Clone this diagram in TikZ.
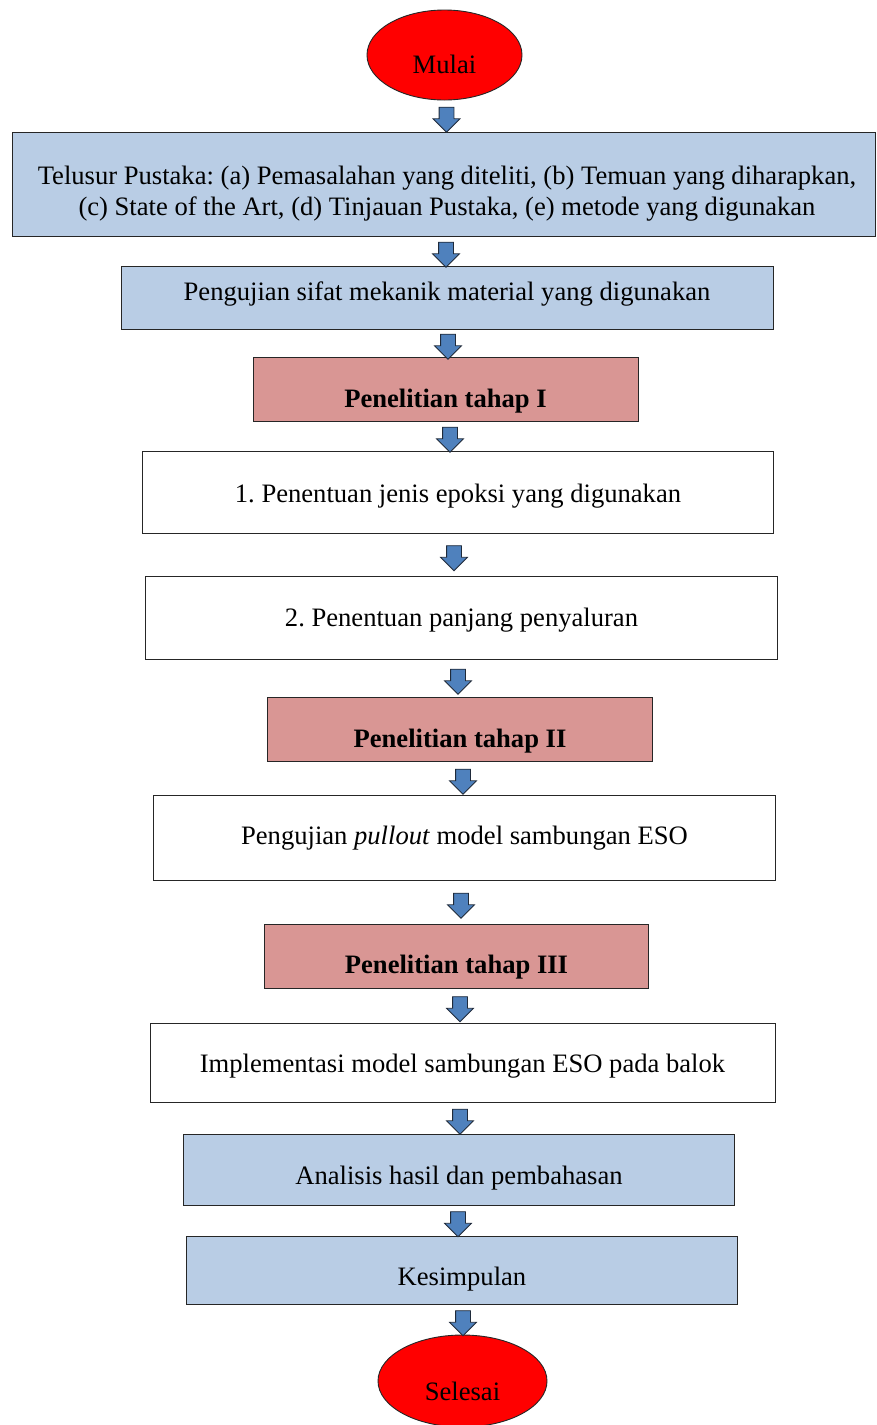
\documentclass[tikz,border=0pt]{standalone}
\usepackage{fontspec}
\setmainfont{Liberation Serif}
\usetikzlibrary{shapes.arrows,shapes.geometric,calc}
\definecolor{boxblue}{HTML}{B9CDE5}
\definecolor{boxpink}{HTML}{D99694}
\definecolor{arrblue}{HTML}{4F81BD}
\definecolor{arrline}{HTML}{1F2A3A}
\tikzset{
  boxbase/.style={draw=black!85, line width=0.9pt, rectangle, inner sep=0pt},
  bluebox/.style={boxbase, fill=boxblue},
  pinkbox/.style={boxbase, fill=boxpink},
  whitebox/.style={boxbase, fill=white},
  oval/.style={draw=black!85, line width=0.9pt, ellipse, fill=red, inner sep=0pt},
  txt/.style={anchor=base, inner sep=0pt, font=\fontsize{26.6}{31}\selectfont\frenchspacing, align=center},
  btxt/.style={txt, font=\fontsize{26.6}{31}\selectfont\bfseries},
  barrow/.style={single arrow, draw=arrline, line width=0.8pt, fill=arrblue,
    rotate=-90, minimum height=25pt, inner xsep=3pt, inner ysep=7pt,
    single arrow head extend=6pt, single arrow tip angle=90, anchor=center}
}
\newcommand{\mybox}[6]{% style, name, x1, y1, x2, y2
  \node[#1, minimum width={#5-#3}, minimum height={#6-#4}] (#2) at ({(#3+#5)/2},{(#4+#6)/2}) {};}
% block arrow between two nodes: name, from, to, x
\newcommand{\barr}[4]{%
  \path let \p1=($(#2.south)!0.5!(#3.north)$) in
    node[barrow] (#1) at (#4pt,\y1) {};}
\begin{document}
\begin{tikzpicture}[x=1pt,y=-1pt]
\useasboundingbox (0,0) rectangle (876,1425);
\clip (0,0) rectangle (876,1425);
% start / end
\node[oval, minimum width=155pt, minimum height=90pt] (start) at (444.5,55) {};
\node[txt] (tstart) at (444.5,73) {Mulai};
% boxes
\mybox{bluebox}{b1}{12}{132}{875}{236}
\node[txt] (t1) at (447,215) {Telusur Pustaka: (a) Pemasalahan yang diteliti, (b) Temuan yang diharapkan,\\(c) State of the Art, (d) Tinjauan Pustaka, (e) metode yang digunakan};
\mybox{bluebox}{b2}{121}{266}{773}{329}
\node[txt] (t2) at (447,300) {Pengujian sifat mekanik material yang digunakan};
\mybox{pinkbox}{b3}{253}{357}{638}{421}
\node[btxt] (t3) at (445.5,407) {Penelitian tahap I};
\mybox{whitebox}{b4}{142}{451}{773}{533}
\node[txt] (t4) at (458,502) {1. Penentuan jenis epoksi yang digunakan};
\mybox{whitebox}{b5}{145}{576}{777}{659}
\node[txt] (t5) at (461.5,626) {2. Penentuan panjang penyaluran};
\mybox{pinkbox}{b6}{267}{697}{652}{761}
\node[btxt] (t6) at (460,747) {Penelitian tahap II};
\mybox{whitebox}{b7}{153}{795}{775}{880}
\node[txt] (t7) at (464.5,844) {Pengujian \textit{pullout} model sambungan ESO};
\mybox{pinkbox}{b8}{264}{924}{648}{988}
\node[btxt] (t8) at (456.5,973) {Penelitian tahap III};
\mybox{whitebox}{b9}{150}{1023}{775}{1102}
\node[txt] (t9) at (462.5,1072) {Implementasi model sambungan ESO pada balok};
\mybox{bluebox}{b10}{183}{1134}{734}{1205}
\node[txt] (t10) at (459,1184) {Analisis hasil dan pembahasan};
\mybox{bluebox}{b11}{186}{1236}{737}{1304}
\node[txt] (t11) at (462,1285) {Kesimpulan};
\node[oval, minimum width=169pt, minimum height=92pt] (stop) at (462.5,1381) {};
\node[txt] (tstop) at (462.5,1400) {Selesai};
% block arrows between nodes
\barr{a1}{start}{b1}{446.5}
\barr{a2}{b1}{b2}{446}
\barr{a3}{b2}{b3}{448}
\barr{a4}{b3}{b4}{450}
\barr{a5}{b4}{b5}{454}
\barr{a6}{b5}{b6}{458}
\barr{a7}{b6}{b7}{463}
\barr{a8}{b7}{b8}{461}
\barr{a9}{b8}{b9}{460}
\barr{a10}{b9}{b10}{460}
\barr{a11}{b10}{b11}{458}
\barr{a12}{b11}{stop}{463}
\end{tikzpicture}
\end{document}
